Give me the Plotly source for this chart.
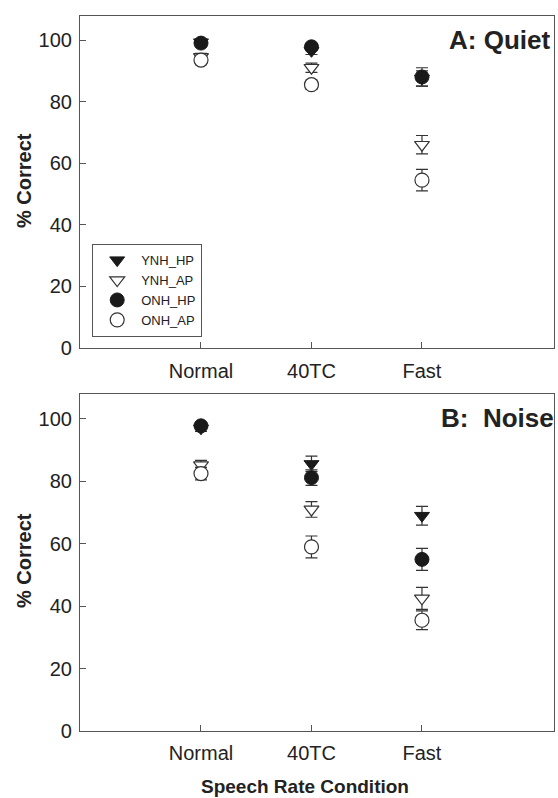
import plotly.graph_objects as go

conditions = ["Normal", "40TC", "Fast"]
xpos = [1, 2, 3]
series = ["YNH_HP", "YNH_AP", "ONH_HP", "ONH_AP"]

# Panel A: Quiet
quiet_YNH_HP = [99.3, 96.5, 87.5]
quiet_YNH_AP = [94.5, 91.0, 66.0]
quiet_ONH_HP = [99.0, 97.8, 88.0]
quiet_ONH_AP = [93.5, 85.5, 54.5]
quiet_err_YNH_HP = [0.8, 1.2, 2.5]
quiet_err_YNH_AP = [1.2, 1.5, 3.0]
quiet_err_ONH_HP = [0.8, 1.0, 3.0]
quiet_err_ONH_AP = [1.5, 1.5, 3.5]

# Panel B: Noise
noise_YNH_HP = [97.0, 85.6, 69.0]
noise_YNH_AP = [85.2, 71.0, 42.5]
noise_ONH_HP = [97.8, 81.2, 55.0]
noise_ONH_AP = [82.5, 59.0, 35.5]
noise_err_YNH_HP = [1.0, 2.5, 3.0]
noise_err_YNH_AP = [1.5, 2.5, 3.5]
noise_err_ONH_HP = [1.0, 2.5, 3.5]
noise_err_ONH_AP = [2.0, 3.5, 3.0]

styles = {
    "YNH_HP": dict(symbol="triangle-down", color="#1a1a1a", line=dict(color="#1a1a1a", width=1)),
    "YNH_AP": dict(symbol="triangle-down", color="white", line=dict(color="#333333", width=1.2)),
    "ONH_HP": dict(symbol="circle", color="#1a1a1a", line=dict(color="#1a1a1a", width=1)),
    "ONH_AP": dict(symbol="circle", color="white", line=dict(color="#333333", width=1.2)),
}

quiet = {"YNH_HP": (quiet_YNH_HP, quiet_err_YNH_HP), "YNH_AP": (quiet_YNH_AP, quiet_err_YNH_AP),
         "ONH_HP": (quiet_ONH_HP, quiet_err_ONH_HP), "ONH_AP": (quiet_ONH_AP, quiet_err_ONH_AP)}
noise = {"YNH_HP": (noise_YNH_HP, noise_err_YNH_HP), "YNH_AP": (noise_YNH_AP, noise_err_YNH_AP),
         "ONH_HP": (noise_ONH_HP, noise_err_ONH_HP), "ONH_AP": (noise_ONH_AP, noise_err_ONH_AP)}

fig = go.Figure()
for panel, data, xa, ya in [("A", quiet, "x", "y"), ("B", noise, "x2", "y2")]:
    for s in series:
        vals, errs = data[s]
        st = styles[s]
        fig.add_trace(go.Scatter(
            x=xpos, y=vals, mode="markers", name=s, legendgroup=s,
            showlegend=(panel == "A"), xaxis=xa, yaxis=ya,
            marker=dict(symbol=st["symbol"], size=14 if "circle" in st["symbol"] else 13,
                        color=st["color"], line=st["line"]),
            error_y=dict(type="data", array=errs, visible=True, color="#333333",
                         thickness=1.2, width=6),
        ))

W, H = 558, 798
L, R = 80, 4
PW = W - L - R


def py(Y):
    return 1 - Y / H


def px(X):
    return (X - L) / PW


top_dom = [py(348), py(16)]
bot_dom = [py(731), py(394)]

tickfont = dict(size=20, color="#222222", family="Liberation Sans, Arial, sans-serif")
axis_common = dict(showline=True, linecolor="#555555", linewidth=1.2, mirror=True,
                   showgrid=False, zeroline=False, ticks="inside", ticklen=6,
                   tickcolor="#555555", tickfont=tickfont, automargin=False)
xr = [-0.095, 4.195]
fig.update_layout(
    width=W, height=H,
    margin=dict(l=L, r=R, t=0, b=0, autoexpand=False),
    plot_bgcolor="white", paper_bgcolor="white",
    font=dict(family="Liberation Sans, Arial, sans-serif", color="#222222"),
    xaxis=dict(domain=[0, 1], anchor="y", range=xr, tickvals=xpos, ticktext=conditions,
               ticklabelstandoff=5, **axis_common),
    yaxis=dict(domain=top_dom, anchor="x", range=[0, 107.8], tickvals=[0, 20, 40, 60, 80, 100],
               ticklabelstandoff=3, **axis_common),
    xaxis2=dict(domain=[0, 1], anchor="y2", range=xr, tickvals=xpos, ticktext=conditions,
                ticklabelstandoff=4, **axis_common),
    yaxis2=dict(domain=bot_dom, anchor="x2", range=[0, 108], tickvals=[0, 20, 40, 60, 80, 100],
                ticklabelstandoff=3, **axis_common),
    showlegend=True,
    legend=dict(x=px(92), y=py(244), xanchor="left", yanchor="top",
                bordercolor="#555555", borderwidth=1.2, bgcolor="white",
                font=dict(size=13, color="#222222"), tracegroupgap=0, itemwidth=38),
    annotations=[
        dict(text="<b>A: Quiet</b>", xref="paper", yref="paper", x=px(552), y=py(40),
             xanchor="right", yanchor="middle", showarrow=False, font=dict(size=26, color="#222222")),
        dict(text="<b>B:  Noise</b>", xref="paper", yref="paper", x=px(556), y=py(418),
             xanchor="right", yanchor="middle", showarrow=False, font=dict(size=26, color="#222222")),
        dict(text="<b>% Correct</b>", xref="paper", yref="paper", x=px(24), y=py(181),
             xanchor="center", yanchor="middle", textangle=-90, showarrow=False,
             font=dict(size=20, color="#222222")),
        dict(text="<b>% Correct</b>", xref="paper", yref="paper", x=px(24), y=py(561),
             xanchor="center", yanchor="middle", textangle=-90, showarrow=False,
             font=dict(size=20, color="#222222")),
        dict(text="<b>Speech Rate Condition</b>", xref="paper", yref="paper", x=px(305), y=py(786),
             xanchor="center", yanchor="middle", showarrow=False, font=dict(size=19, color="#222222")),
    ],
)

fig.write_html("out.html", config={"displayModeBar": False},
               post_script="document.body.style.margin='0px';")
